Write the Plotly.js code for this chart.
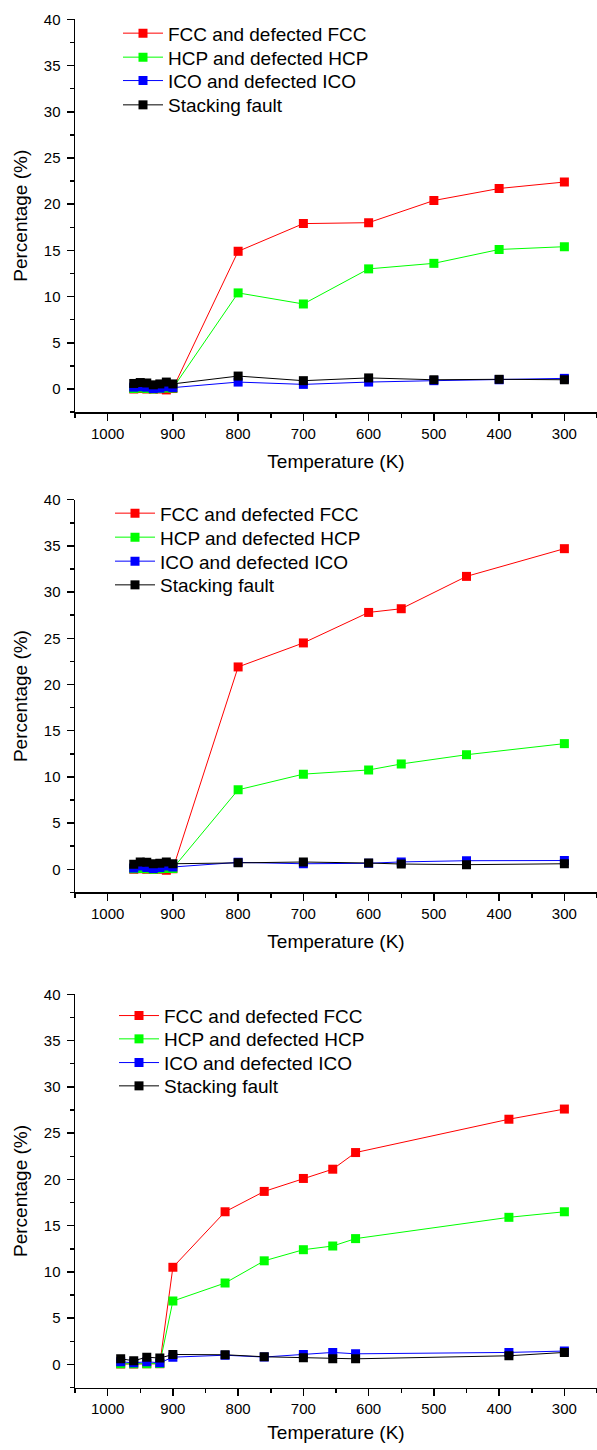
<!DOCTYPE html>
<html>
<head>
<meta charset="utf-8">
<script src="https://cdn.plot.ly/plotly-3.0.1.min.js"></script>
<style>html,body{margin:0;padding:0;background:#fff;}#chart{width:597px;height:1450px;}</style>
</head>
<body>
<div id="chart"></div>
<script>
// ---- Data ----
const seriesNames = ["FCC and defected FCC", "HCP and defected HCP", "ICO and defected ICO", "Stacking fault"];

// Panel 1
const temp1 = [960, 950, 940, 930, 920, 910, 900, 800, 700, 600, 500, 400, 300];
const fcc1  = [0.0, 0.05, 0.0, 0.0, 0.0, -0.1, 0.05, 14.9, 17.9, 18.0, 20.4, 21.7, 22.4];
const hcp1  = [0.05, 0.1, 0.05, 0.0, 0.05, 0.1, 0.1, 10.4, 9.2, 13.0, 13.6, 15.1, 15.4];
const ico1  = [0.2, 0.25, 0.2, 0.05, 0.1, 0.25, 0.15, 0.75, 0.5, 0.75, 0.9, 1.0, 1.15];
const sf1   = [0.6, 0.7, 0.65, 0.45, 0.55, 0.75, 0.55, 1.4, 0.9, 1.2, 1.0, 1.05, 1.0];

// Panel 2
const temp2 = [960, 950, 940, 930, 920, 910, 900, 800, 700, 600, 550, 450, 300];
const fcc2  = [0.0, 0.05, 0.0, 0.0, 0.0, -0.1, 0.05, 21.9, 24.5, 27.8, 28.2, 31.7, 34.7];
const hcp2  = [0.05, 0.1, 0.05, 0.0, 0.05, 0.1, 0.1, 8.6, 10.3, 10.75, 11.4, 12.4, 13.6];
const ico2  = [0.15, 0.35, 0.2, 0.1, 0.2, 0.35, 0.25, 0.75, 0.6, 0.65, 0.8, 0.93, 0.95];
const sf2   = [0.55, 0.8, 0.75, 0.6, 0.65, 0.8, 0.6, 0.71, 0.79, 0.68, 0.57, 0.5, 0.6];

// Panel 3
const temp3 = [980, 960, 940, 920, 900, 820, 760, 700, 655, 620, 385, 300];
const fcc3  = [0.05, 0.05, 0.07, 0.07, 10.5, 16.5, 18.7, 20.1, 21.1, 22.9, 26.5, 27.6];
const hcp3  = [0.07, 0.07, 0.07, 0.1, 6.85, 8.8, 11.2, 12.4, 12.8, 13.6, 15.9, 16.5];
const ico3  = [0.29, 0.18, 0.29, 0.18, 0.79, 1.0, 0.8, 1.08, 1.3, 1.15, 1.3, 1.45];
const sf3   = [0.61, 0.4, 0.79, 0.69, 1.08, 1.05, 0.83, 0.72, 0.61, 0.61, 0.94, 1.3];

const colors = ["#ff0000", "#00ff00", "#0000ff", "#000000"];

const panels = [
  {t: temp1, s: [fcc1, hcp1, ico1, sf1]},
  {t: temp2, s: [fcc2, hcp2, ico2, sf2]},
  {t: temp3, s: [fcc3, hcp3, ico3, sf3]}
];

const H = 1450;
const doms = [[19.4, 412.1], [499.7, 892.4], [994.3, 1387.6]]; // pixel top/bottom of plot areas
const legendX = [118, 110, 114];
const legendRows = [[34.3, 58.3, 81.7, 106], [514.3, 538.3, 562.3, 586], [1016.7, 1040, 1063.7, 1087]];
const xTitleStandoff = [14, 14, 9];

const tickFont = {family: "Liberation Sans, Arial, sans-serif", size: 15, color: "#000"};
const titleFont = {family: "Liberation Sans, Arial, sans-serif", size: 19, color: "#000"};
const legendFont = {family: "Liberation Sans, Arial, sans-serif", size: 19, color: "#000"};

const layout = {
  width: 597, height: H,
  margin: {l: 75, r: 0, t: 0, b: 0},
  paper_bgcolor: "#fff", plot_bgcolor: "#fff",
  font: tickFont,
  showlegend: true
};

const traces = [];
let legIdx = 0;
panels.forEach((p, i) => {
  const ax = i === 0 ? "" : String(i + 1);
  p.s.forEach((vals, k) => {
    legIdx += 1;
    const lname = legIdx === 1 ? "legend" : "legend" + legIdx;
    traces.push({
      x: p.t, y: vals, type: "scatter", mode: "lines+markers",
      name: seriesNames[k],
      xaxis: "x" + ax, yaxis: "y" + ax,
      legend: lname,
      line: {color: colors[k], width: 1},
      marker: {symbol: "square", size: 9, color: colors[k], line: {width: 0}}
    });
    layout[lname] = {
      x: (legendX[i] - 75) / 522,
      y: 1 - (legendRows[i][k] - 20) / H,
      xref: "paper", yref: "paper",
      xanchor: "left", yanchor: "top",
      bgcolor: "rgba(0,0,0,0)", borderwidth: 0,
      font: legendFont, itemwidth: 40
    };
  });
});

doms.forEach((d, i) => {
  const ax = i === 0 ? "" : String(i + 1);
  const dom = [1 - d[1] / H, 1 - d[0] / H];
  layout["xaxis" + ax] = {
    domain: [0, 1], anchor: "y" + ax,
    range: [1050, 250], tick0: 0, dtick: 100,
    showline: true, linecolor: "#000", linewidth: 1.5,
    ticks: "outside", ticklen: 7, tickwidth: 1.5, tickcolor: "#000",
    minor: {ticks: "outside", ticklen: 4, tickwidth: 1.5, tickcolor: "#000", dtick: 50, tick0: 0},
    showgrid: false, zeroline: false, tickfont: tickFont,
    title: {text: "Temperature (K)", font: titleFont, standoff: xTitleStandoff[i]},
    automargin: false
  };
  layout["yaxis" + ax] = {
    domain: dom, anchor: "x" + ax,
    range: [-2.5, 40], tick0: 0, dtick: 5,
    showline: true, linecolor: "#000", linewidth: 1.5,
    ticks: "outside", ticklen: 7, tickwidth: 1.5, tickcolor: "#000",
    ticklabelstandoff: 3,
    minor: {ticks: "outside", ticklen: 4, tickwidth: 1.5, tickcolor: "#000", dtick: 2.5, tick0: 0},
    showgrid: false, zeroline: false, tickfont: tickFont,
    title: {text: "Percentage (%)", font: titleFont, standoff: 11},
    automargin: false
  };
});

Plotly.newPlot("chart", traces, layout, {staticPlot: true, displayModeBar: false});
</script>
</body>
</html>
